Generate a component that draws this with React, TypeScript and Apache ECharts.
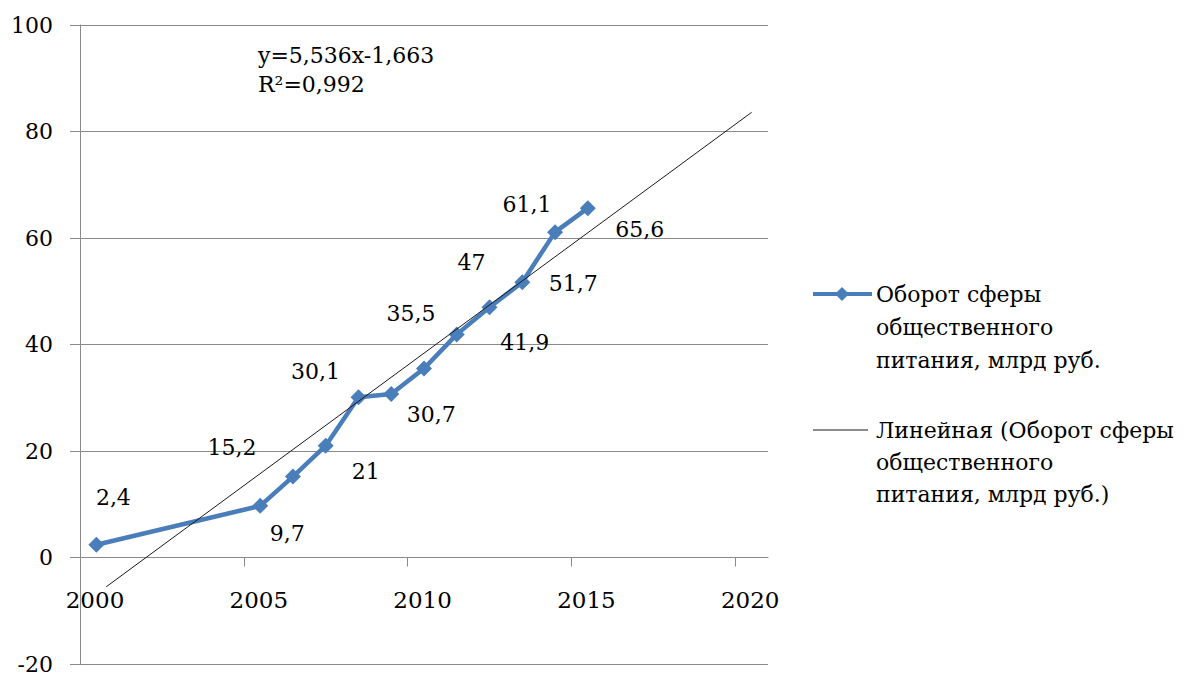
import React, { useEffect, useRef } from "react";
import * as echarts from "echarts";

// ---- data ----
const xValues = [2000.5, 2005.5, 2006.5, 2007.5, 2008.5, 2009.5, 2010.5, 2011.5, 2012.5, 2013.5, 2014.5, 2015.5];
const turnover = [2.4, 9.7, 15.2, 21, 30.1, 30.7, 35.5, 41.9, 47, 51.7, 61.1, 65.6];
const trendX = [2000.8, 2020.5];
const trendY = [-5.5, 83.6];
const xTickLabels = [2000, 2005, 2010, 2015, 2020];
const xTickMarks = [2005, 2010, 2015, 2020];
const seriesName = "Оборот сферы\nобщественного\nпитания, млрд руб.";
const trendName = "Линейная (Оборот сферы\nобщественного\nпитания, млрд руб.)";
const equationText = "y=5,536x-1,663\nR²=0,992";

const FONT = "DejaVu Serif";
const BLUE = "#4a7ebb";
const GRID = "#8a8a8a";

export default function App() {
  const ref = useRef<HTMLDivElement>(null);

  useEffect(() => {
    if (!ref.current) return;
    const chart = echarts.init(ref.current, undefined, { renderer: "svg" });

    // label offsets (layout only)
    const labelOffsets: number[][] = [
      [17, -47], [27, 28], [-61, -29], [40, 26], [-43, -26], [40, 20],
      [-13, -55], [68, 8], [-18, -45], [51, 1], [-28, -28], [52, 21],
    ];

    const mainData = xValues.map((x, i) => ({
      value: [x, turnover[i]],
      label: { offset: labelOffsets[i] },
    }));

    const trendData = trendX.map((x, i) => [x, trendY[i]]);

    chart.setOption({
      animation: false,
      backgroundColor: "#ffffff",
      textStyle: { fontFamily: FONT },
      grid: {
        left: 80,
        top: 25,
        width: 688,
        height: 639,
        containLabel: false,
        outerBoundsMode: "none",
      },
      xAxis: {
        type: "value",
        min: 2000,
        max: 2021,
        interval: 5,
        axisLine: { show: true, onZero: true, lineStyle: { color: GRID, width: 1 } },
        axisTick: {
          show: true,
          inside: false,
          length: 9,
          customValues: xTickMarks,
          lineStyle: { color: GRID, width: 1 },
        },
        axisLabel: {
          show: true,
          customValues: xTickLabels,
          margin: -76,
          padding: [0, 0, 0, 30],
          fontSize: 23,
          fontFamily: FONT,
          color: "#000",
          formatter: (v: number) => String(v),
        },
        splitLine: { show: false },
      },
      yAxis: {
        type: "value",
        min: -20,
        max: 100,
        interval: 20,
        axisLine: { show: true, onZero: false, lineStyle: { color: GRID, width: 1 } },
        axisTick: { show: true, inside: false, length: 10, lineStyle: { color: GRID, width: 1 } },
        axisLabel: {
          margin: 27,
          fontSize: 22,
          fontFamily: FONT,
          color: "#000",
        },
        splitLine: { show: true, lineStyle: { color: GRID, width: 1 } },
      },
      series: [
        {
          name: "main",
          type: "line",
          data: mainData,
          symbol: "diamond",
          symbolSize: [16, 16],
          lineStyle: { color: BLUE, width: 4.5 },
          itemStyle: { color: BLUE },
          z: 3,
          label: {
            show: true,
            position: "inside",
            fontSize: 22,
            fontFamily: FONT,
            color: "#000",
            formatter: (p: any) => String(p.value[1]).replace(".", ","),
          },
        },
        {
          name: "trend",
          type: "line",
          data: trendData,
          symbol: "none",
          silent: true,
          lineStyle: { color: "#1a1a1a", width: 1 },
          z: 4,
        },
      ],
      graphic: [
        {
          type: "text",
          x: 258,
          y: 41,
          style: {
            text: equationText,
            fontSize: 22,
            fontFamily: FONT,
            fill: "#000",
            lineHeight: 29,
          },
        },
        // legend item 1
        {
          type: "line",
          shape: { x1: 813, y1: 294, x2: 872, y2: 294 },
          style: { stroke: BLUE, lineWidth: 4 },
        },
        {
          type: "polygon",
          shape: { points: [[842, 287], [849, 294], [842, 301], [835, 294]] },
          style: { fill: BLUE },
        },
        {
          type: "text",
          x: 876,
          y: 278,
          style: {
            text: seriesName,
            fontSize: 22,
            fontFamily: FONT,
            fill: "#000",
            lineHeight: 33,
          },
        },
        // legend item 2
        {
          type: "line",
          shape: { x1: 813, y1: 430, x2: 868, y2: 430 },
          style: { stroke: "#1a1a1a", lineWidth: 1 },
        },
        {
          type: "text",
          x: 876,
          y: 414,
          style: {
            text: trendName,
            fontSize: 22,
            fontFamily: FONT,
            fill: "#000",
            lineHeight: 32,
          },
        },
      ],
    });

    return () => {
      chart.dispose();
    };
  }, []);

  return (
    <div
      ref={ref}
      style={{ position: "fixed", left: 0, top: 0, width: 1190, height: 673, background: "#fff" }}
    />
  );
}
